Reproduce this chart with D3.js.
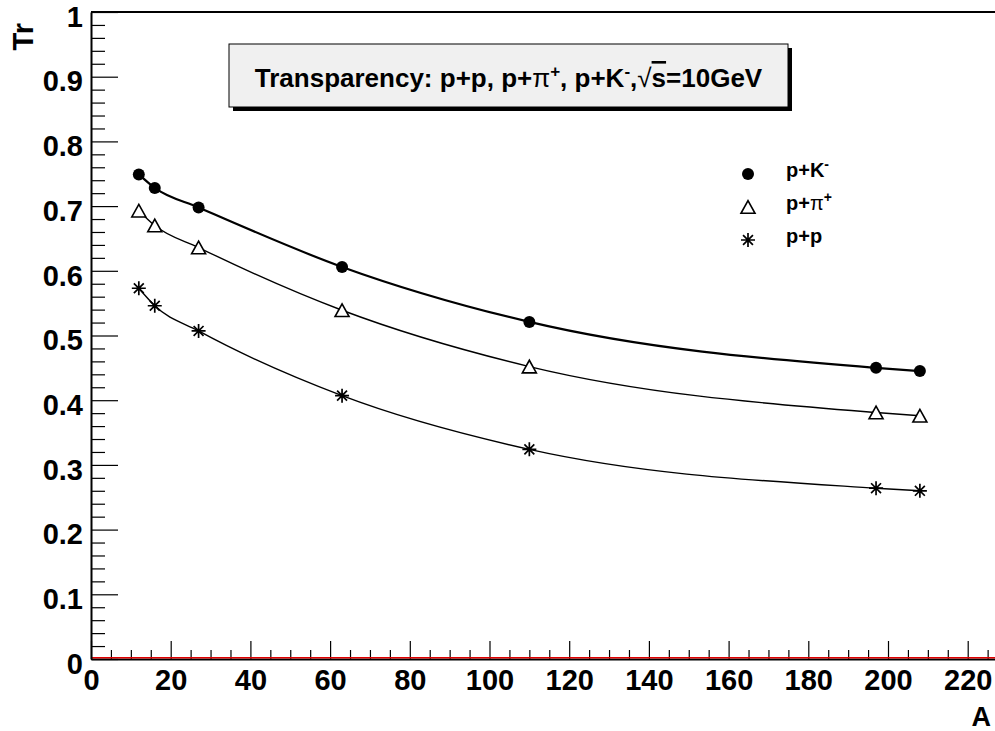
<!DOCTYPE html>
<html>
<head>
<meta charset="utf-8">
<script src="https://cdn.jsdelivr.net/npm/d3@7"></script>
<style>
  body { margin: 0; background: white; }
  svg text { font-family: "Liberation Sans", Arial, sans-serif; font-weight: bold; }
</style>
</head>
<body>
<div id="chart"></div>
<script>
// mass numbers of the targets
var massNumbers = [12, 16, 27, 63, 110, 197, 208];
// transparency per projectile
var trKaon = [0.749, 0.728, 0.698, 0.606, 0.521, 0.450, 0.445];
var trPion = [0.693, 0.670, 0.636, 0.539, 0.452, 0.381, 0.376];
var trProton = [0.573, 0.546, 0.507, 0.407, 0.324, 0.264, 0.260];

var xMajorTicks = [0, 20, 40, 60, 80, 100, 120, 140, 160, 180, 200, 220];
var yMajorTicks = [0, 0.1, 0.2, 0.3, 0.4, 0.5, 0.6, 0.7, 0.8, 0.9, 1];

var width = 995, height = 731;

var svg = d3.select("#chart")
    .append("svg")
    .attr("width", width)
    .attr("height", height);

var xScale = d3.scaleLinear()
    .domain([0, 226.85])
    .range([91, 995]);

var yScale = d3.scaleLinear()
    .domain([0, 1])
    .range([659, 12]);

// minor ticks
var xMinor = d3.range(0, 226, 5).filter(v => v % 20 !== 0);
var yMinor = d3.range(0, 50).map(i => i * 0.02).filter((v, i) => i % 5 !== 0);

svg.append("g")
    .attr("transform", `translate(0,${yScale(0)})`)
    .call(d3.axisBottom(xScale).tickValues(xMinor).tickSize(-9).tickFormat(""))
    .call(g => g.select(".domain").remove())
    .selectAll("line").attr("stroke", "#000").attr("stroke-width", 1.2);

svg.append("g")
    .attr("transform", `translate(${xScale(0)},0)`)
    .call(d3.axisLeft(yScale).tickValues(yMinor).tickSize(-14).tickFormat(""))
    .call(g => g.select(".domain").remove())
    .selectAll("line").attr("stroke", "#000").attr("stroke-width", 1.2);

var xAxis = svg.append("g")
    .attr("transform", `translate(0,${yScale(0)})`)
    .call(d3.axisBottom(xScale).tickValues(xMajorTicks).tickSize(-18).tickPadding(10).tickSizeOuter(0));
xAxis.select(".domain").attr("stroke-width", 2);
xAxis.selectAll("line").attr("stroke-width", 1.2);
xAxis.selectAll("text")
    .style("font-size", "29px")
    .attr("fill", "#000");

// red line along zero
svg.append("line")
    .attr("x1", xScale(0)).attr("x2", xScale.range()[1])
    .attr("y1", yScale(0) - 1.2).attr("y2", yScale(0) - 1.2)
    .attr("stroke", "#e00000")
    .attr("stroke-width", 1.4);

var yAxis = svg.append("g")
    .attr("transform", `translate(${xScale(0)},0)`)
    .call(d3.axisLeft(yScale).tickValues(yMajorTicks).tickSize(-27).tickPadding(8).tickSizeOuter(0)
        .tickFormat(d => d3.format("")(+d.toFixed(1))));
yAxis.select(".domain").attr("stroke-width", 2);
yAxis.selectAll("line").attr("stroke-width", 1.2);
yAxis.selectAll("text")
    .attr("dy", "0.49em")
    .style("font-size", "29px")
    .attr("fill", "#000");

// top frame line
svg.append("line")
    .attr("x1", xScale(0)).attr("x2", xScale.range()[1])
    .attr("y1", yScale(1)).attr("y2", yScale(1))
    .attr("stroke", "#000")
    .attr("stroke-width", 2);

// axis titles
svg.append("text")
    .attr("transform", "translate(33,23) rotate(-90)")
    .attr("text-anchor", "end")
    .style("font-size", "29px")
    .text("Tr");

svg.append("text")
    .attr("x", 991)
    .attr("y", 726)
    .attr("text-anchor", "end")
    .style("font-size", "27px")
    .text("A");

// markers
var circlePath = d3.symbol(d3.symbolCircle, Math.PI * 36);
function trianglePath(s) {
    var h = s * 0.9;
    return `M0,${-h / 2}L${s / 2},${h / 2}L${-s / 2},${h / 2}Z`;
}
function starPath(s) {
    var r = s / 2, d = r * 0.7071;
    return `M${-r},0L${r},0M0,${-r}L0,${r}M${-d},${-d}L${d},${d}M${-d},${d}L${d},${-d}`;
}

var series = [
    { name: "kaon", values: trKaon, lineWidth: 2.2, marker: "circle" },
    { name: "pion", values: trPion, lineWidth: 1.4, marker: "triangle" },
    { name: "proton", values: trProton, lineWidth: 1.4, marker: "star" }
];

var line = d3.line()
    .x(d => xScale(d.a))
    .y(d => yScale(d.tr))
    .curve(d3.curveMonotoneX);

function drawMarker(g, type) {
    if (type === "circle") {
        g.append("path").attr("d", circlePath()).attr("fill", "#000");
    } else if (type === "triangle") {
        g.append("path").attr("d", trianglePath(14)).attr("fill", "#fff")
            .attr("stroke", "#000").attr("stroke-width", 1.6);
    } else {
        g.append("path").attr("d", starPath(14)).attr("fill", "none")
            .attr("stroke", "#000").attr("stroke-width", 1.7);
    }
}

series.forEach(s => {
    var pts = massNumbers.map((a, i) => ({ a: a, tr: s.values[i] }));
    svg.append("path")
        .datum(pts)
        .attr("fill", "none")
        .attr("stroke", "#000")
        .attr("stroke-width", s.lineWidth)
        .attr("d", line);
    pts.forEach(p => {
        var g = svg.append("g")
            .attr("transform", `translate(${xScale(p.a)},${yScale(p.tr)})`);
        drawMarker(g, s.marker);
    });
});

// title box
var box = { x: 229, y: 44, w: 559, h: 63 };
svg.append("rect")
    .attr("x", box.x + 4).attr("y", box.y + 4)
    .attr("width", box.w).attr("height", box.h)
    .attr("fill", "#000");
svg.append("rect")
    .attr("x", box.x).attr("y", box.y)
    .attr("width", box.w).attr("height", box.h)
    .attr("fill", "#f0f0f0")
    .attr("stroke", "#000")
    .attr("stroke-width", 1);

var title = svg.append("text")
    .attr("x", box.x + box.w / 2)
    .attr("y", 87)
    .attr("text-anchor", "middle")
    .style("font-size", "26px");
title.append("tspan").text("Transparency: p+p, p+");
title.append("tspan").style("font-weight", "normal").text("π");
title.append("tspan").attr("dy", -10).style("font-size", "17px").text("+");
title.append("tspan").attr("dy", 10).text(", p+K");
title.append("tspan").attr("dy", -10).style("font-size", "17px").text("-");
title.append("tspan").attr("dy", 10).text(",");
title.append("tspan").style("font-weight", "normal").text("√");
title.append("tspan").style("text-decoration", "overline").text("s");
title.append("tspan").text("=10GeV");

// legend
var legendItems = [
    { marker: "circle", label: "p+K", sup: "-" },
    { marker: "triangle", label: "p+", greek: "π", sup: "+" },
    { marker: "star", label: "p+p" }
];
legendItems.forEach((d, i) => {
    var y = 174 + i * 33;
    var g = svg.append("g").attr("transform", `translate(748,${y})`);
    drawMarker(g, d.marker);
    var t = svg.append("text")
        .attr("x", 786)
        .attr("y", y + 3)
        .style("font-size", "20px");
    t.append("tspan").text(d.label);
    if (d.greek) t.append("tspan").style("font-weight", "normal").text(d.greek);
    if (d.sup) t.append("tspan").attr("dy", -8).style("font-size", "14px").text(d.sup);
});
</script>
</body>
</html>
